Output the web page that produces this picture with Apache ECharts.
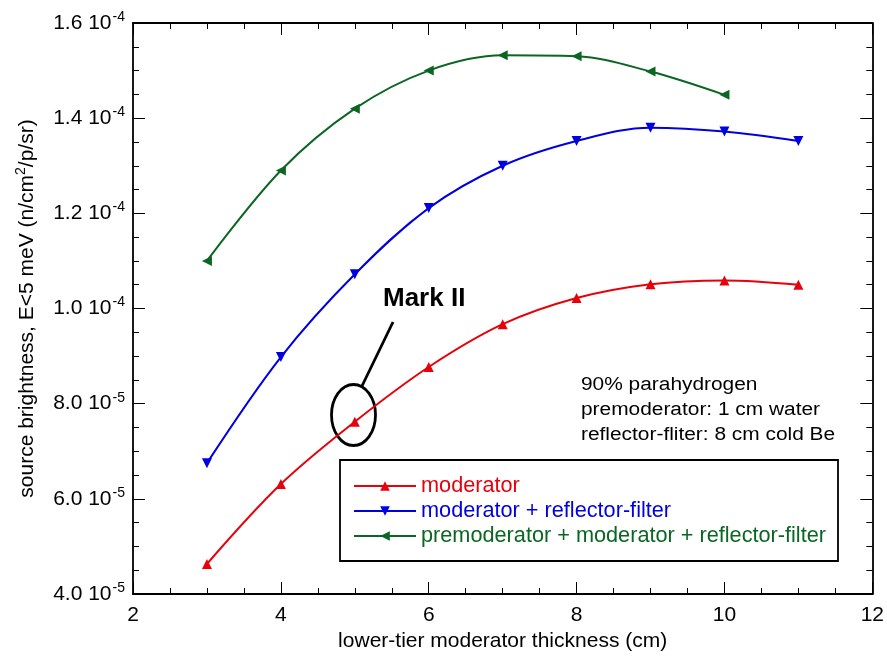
<!DOCTYPE html>
<html><head><meta charset="utf-8">
<script src="https://cdn.jsdelivr.net/npm/echarts@6/dist/echarts.min.js"></script>
<style>html,body{margin:0;padding:0;background:#fff}#c{width:887px;height:661px}</style>
</head><body><div id="c"></div>
<script>
const thickness = [3, 4, 5, 6, 7, 8, 9, 10, 11];
const moderator = [4.63e-5, 6.31e-5, 7.62e-5, 8.77e-5, 9.67e-5, 10.22e-5, 10.51e-5, 10.59e-5, 10.50e-5];
const modRefl = [6.75e-5, 8.98e-5, 10.72e-5, 12.11e-5, 13.0e-5, 13.52e-5, 13.8e-5, 13.72e-5, 13.52e-5];
const thicknessPre = [3, 4, 5, 6, 7, 8, 9, 10];
const preModRefl = [11.0e-5, 12.9e-5, 14.2e-5, 15.0e-5, 15.32e-5, 15.3e-5, 14.98e-5, 14.49e-5];
const seriesNames = ['moderator', 'moderator + reflector-filter', 'premoderator + moderator + reflector-filter'];
const notes = ['90% parahydrogen', 'premoderator: 1 cm water', 'reflector-fliter: 8 cm cold Be'];

const FONT = '"Liberation Sans", Arial, Helvetica, sans-serif';
const RED = '#e8000b', BLUE = '#0000e0', GREEN = '#0b6623';
const zip = (xs, ys) => xs.map((x, i) => [x, ys[i]]);

function yLabel(v) {
  const exp = Math.floor(Math.log10(v) + 1e-9);
  const m = v / Math.pow(10, exp);
  return '{a|' + m.toFixed(1) + ' 10}{s|' + exp + '}';
}

const axisCommon = {
  axisLine: { show: true, lineStyle: { color: '#000', width: 1.8 } },
  axisTick: { show: true, inside: true, length: 12, lineStyle: { color: '#000', width: 1 } },
  minorTick: { show: true, splitNumber: 4, length: 6, lineStyle: { color: '#000', width: 1 } },
  splitLine: { show: false }
};

const chart = echarts.init(document.getElementById('c'), null, { renderer: 'canvas' });
chart.setOption({
  animation: false,
  backgroundColor: '#fff',
  textStyle: { fontFamily: FONT },
  grid: { left: 133, right: 13, top: 23, bottom: 67 },
  xAxis: [
    Object.assign({}, axisCommon, {
      type: 'value', min: 2, max: 12, interval: 2,
      name: 'lower-tier moderator thickness (cm)', nameLocation: 'middle', nameGap: 37,
      nameTextStyle: { fontFamily: FONT, fontSize: 21, color: '#000' },
      axisLabel: { fontFamily: FONT, fontSize: 21, color: '#000', margin: 11 }
    }),
    Object.assign({}, axisCommon, {
      type: 'value', min: 2, max: 12, interval: 2, position: 'top',
      axisLabel: { show: false }
    })
  ],
  yAxis: [
    Object.assign({}, axisCommon, {
      type: 'value', min: 4e-5, max: 1.6e-4, interval: 2e-5,
      name: '{a|source brightness, E<5 meV (n/cm}{s|2}{a|/p/sr)}',
      nameLocation: 'middle', nameGap: 93, nameRotate: 90,
      nameTextStyle: {
        rich: {
          a: { fontFamily: FONT, fontSize: 21, color: '#000' },
          s: { fontFamily: FONT, fontSize: 14, color: '#000', padding: [0, 0, 12, 0] }
        }
      },
      axisLabel: {
        margin: 8,
        formatter: yLabel,
        rich: {
          a: { fontFamily: FONT, fontSize: 21, color: '#000' },
          s: { fontFamily: FONT, fontSize: 14, color: '#000', padding: [0, 0, 12, 1] }
        }
      }
    }),
    Object.assign({}, axisCommon, {
      type: 'value', min: 4e-5, max: 1.6e-4, interval: 2e-5, position: 'right',
      axisLabel: { show: false }
    })
  ],
  legend: {
    orient: 'vertical', left: 340, top: 460,
    padding: [15, 12, 14, 13],
    borderColor: '#000', borderWidth: 1.8,
    itemWidth: 62, itemHeight: 12, itemGap: 3,
    textStyle: { fontFamily: FONT, fontSize: 21.7 },
    data: [
      { name: seriesNames[0], textStyle: { color: RED } },
      { name: seriesNames[1], textStyle: { color: BLUE } },
      { name: seriesNames[2], textStyle: { color: GREEN } }
    ]
  },
  series: [
    {
      name: seriesNames[0], type: 'line', smooth: 0.35, data: zip(thickness, moderator),
      symbol: 'triangle', symbolSize: 10, color: RED,
      lineStyle: { width: 2, color: RED }, itemStyle: { color: RED }
    },
    {
      name: seriesNames[1], type: 'line', smooth: 0.35, data: zip(thickness, modRefl),
      symbol: 'triangle', symbolRotate: 180, symbolSize: 10, color: BLUE,
      lineStyle: { width: 2, color: BLUE }, itemStyle: { color: BLUE }
    },
    {
      name: seriesNames[2], type: 'line', smooth: 0.35, data: zip(thicknessPre, preModRefl),
      symbol: 'triangle', symbolRotate: 90, symbolSize: 10, color: GREEN,
      lineStyle: { width: 2, color: GREEN }, itemStyle: { color: GREEN }
    }
  ],
  graphic: [
    { type: 'text', x: 383, y: 286, style: { text: 'Mark II', font: 'bold 26px ' + FONT, fill: '#000' } },
    { type: 'line', shape: { x1: 393, y1: 322, x2: 362, y2: 386 }, style: { stroke: '#000', lineWidth: 2.8 } },
    { type: 'ellipse', shape: { cx: 353.5, cy: 415, rx: 22, ry: 30.5 }, style: { stroke: '#000', lineWidth: 2.8, fill: 'none' } },
    { type: 'text', x: 581, y: 373, scaleX: 1.16, style: { text: notes.join('\n'), font: '18px ' + FONT, lineHeight: 25, fill: '#000' } }
  ]
});
</script></body></html>
